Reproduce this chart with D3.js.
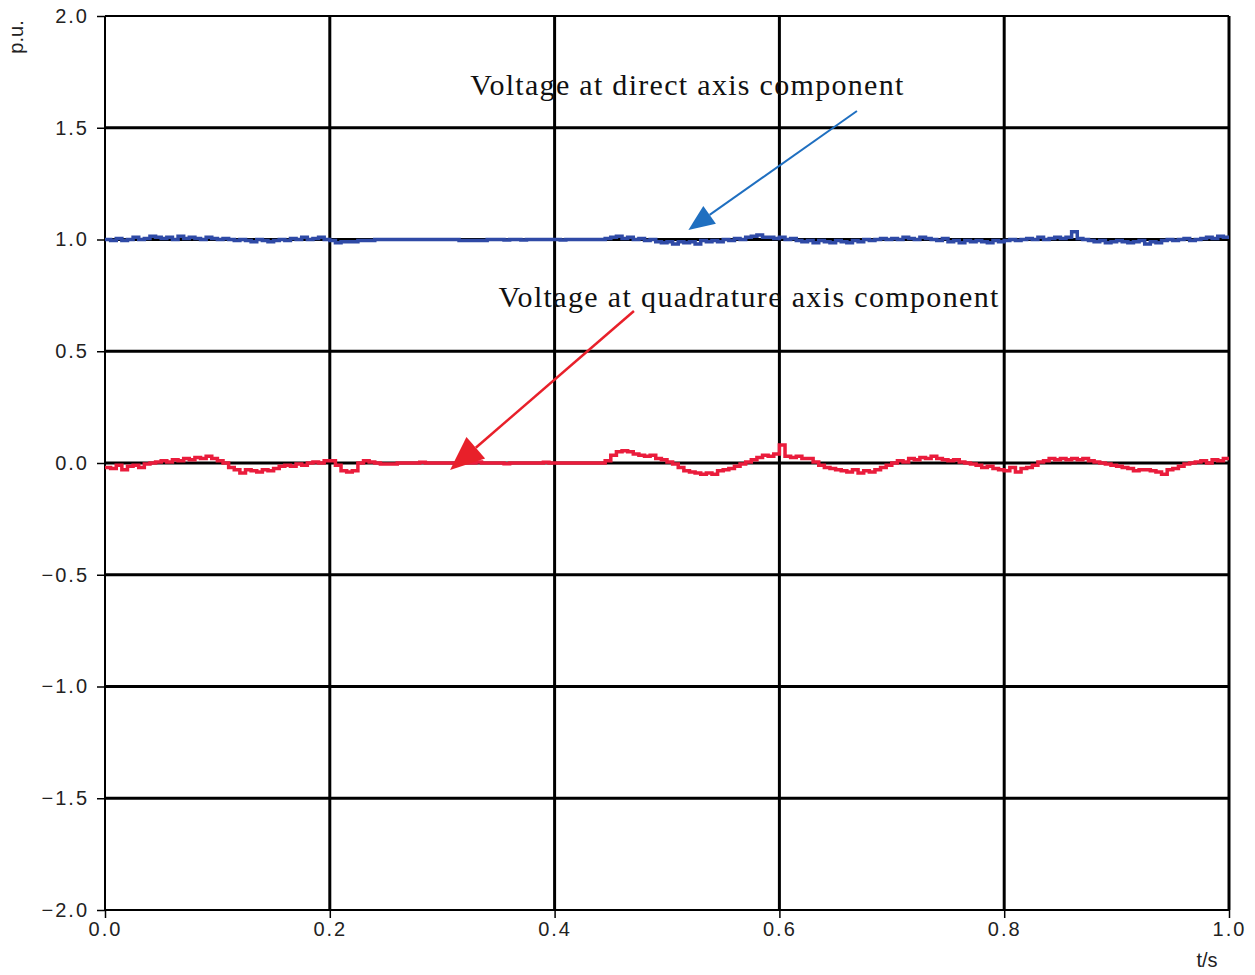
<!DOCTYPE html>
<html>
<head>
<meta charset="utf-8">
<script src="https://cdn.jsdelivr.net/npm/d3@7"></script>
<style>
  body { margin: 0; background: #fff; }
  .tick text { font-family: "Liberation Sans", Arial, sans-serif; font-size: 20px; fill: #222; letter-spacing: 2px; }
  .note { font-family: "Liberation Serif", "Times New Roman", serif; font-size: 30px; fill: #111; }
</style>
</head>
<body>
<div id="chart"></div>
<script>
// sampling step of the recorded signals (s)
const tStep = 0.005;

// direct axis voltage, p.u.
const vd = [
  1.0, 0.995, 1.005, 0.995, 1.0, 1.01, 1.0, 1.005, 1.015, 1.01,
  1.005, 1.01, 1.0, 1.015, 1.005, 1.01, 1.005, 1.0, 1.01, 1.005,
  1.0, 1.005, 1.0, 0.995, 1.0, 0.995, 0.99, 1.0, 0.995, 0.99,
  0.995, 1.0, 0.995, 1.005, 1.0, 1.01, 1.0, 1.005, 1.01, 1.0,
  0.995, 0.985, 0.99, 0.99, 0.99, 0.995, 0.995, 0.995, 1.0, 1.0,
  1.0, 1.0, 1.0, 1.0, 1.0, 1.0, 1.0, 1.0, 1.0, 1.0,
  1.0, 1.0, 1.0, 0.995, 0.995, 0.995, 0.995, 0.995, 1.0, 1.0,
  1.0, 0.998, 1.0, 1.0, 0.998, 1.0, 1.0, 1.0, 1.0, 1.0,
  1.0, 0.998, 1.0, 1.0, 1.0, 1.0, 1.0, 1.0, 1.0, 1.005,
  1.01, 1.015, 1.005, 1.01, 1.0, 1.005, 0.995, 1.0, 0.99, 0.985,
  0.99, 0.98, 0.99, 0.985, 0.99, 0.98, 0.995, 0.99, 0.995, 0.99,
  1.0, 0.995, 1.005, 1.0, 1.01, 1.015, 1.02, 1.01, 1.01, 1.005,
  1.01, 1.0, 1.005, 0.995, 0.99, 0.995, 0.985, 0.995, 0.99, 0.985,
  0.995, 0.99, 0.985, 0.995, 0.99, 1.0, 0.995, 1.0, 1.005, 1.0,
  1.005, 1.0, 1.01, 1.005, 1.0, 1.01, 1.005, 1.0, 0.995, 1.005,
  0.99, 0.995, 0.985, 0.995, 0.99, 0.995, 0.99, 0.985, 0.995, 0.99,
  0.995, 1.0, 0.995, 1.0, 1.005, 1.0, 1.01, 1.0, 1.005, 1.01,
  1.005, 1.01, 1.035, 1.005, 1.0, 0.995, 0.99, 0.995, 0.985, 0.99,
  0.995, 0.99, 0.985, 0.99, 0.995, 0.98, 0.99, 0.985, 0.995, 1.0,
  0.995, 1.0, 1.005, 0.995, 1.0, 1.005, 1.01, 1.005, 1.015, 1.01,
  1.01
];

// quadrature axis voltage, p.u.
const vq = [
  -0.02, -0.025, -0.01, -0.03, -0.015, -0.01, -0.02, -0.005, 0.0, 0.005,
  0.01, 0.005, 0.015, 0.01, 0.02, 0.015, 0.025, 0.02, 0.03, 0.02,
  0.01, 0.0, -0.02, -0.03, -0.045, -0.03, -0.035, -0.04, -0.03, -0.035,
  -0.025, -0.015, -0.01, -0.015, -0.005, -0.01, 0.0, 0.005, 0.0, 0.01,
  0.01, -0.01, -0.035, -0.04, -0.035, 0.0, 0.01, 0.005, 0.0, -0.005,
  -0.005, -0.005, 0.0, 0.0, 0.0, 0.0, 0.003, 0.0, 0.0, 0.0,
  0.0, 0.0, 0.0, 0.0, 0.0, 0.0, 0.005, 0.0, 0.0, 0.0,
  0.0, -0.003, 0.0, 0.0, 0.0, 0.0, 0.0, 0.0, 0.003, 0.0,
  0.0, 0.0, 0.0, 0.0, 0.0, 0.0, 0.0, 0.0, 0.0, 0.01,
  0.035, 0.05, 0.055, 0.05, 0.04, 0.035, 0.03, 0.035, 0.02, 0.015,
  0.005, -0.005, -0.02, -0.035, -0.04, -0.045, -0.05, -0.045, -0.05, -0.035,
  -0.03, -0.025, -0.015, -0.005, 0.005, 0.015, 0.025, 0.035, 0.03, 0.04,
  0.08, 0.03, 0.025, 0.03, 0.02, 0.02, 0.005, -0.01, -0.02, -0.025,
  -0.03, -0.035, -0.04, -0.03, -0.045, -0.035, -0.04, -0.03, -0.02, -0.01,
  0.0, 0.01, 0.005, 0.02, 0.015, 0.025, 0.02, 0.03, 0.02, 0.015,
  0.01, 0.015, 0.005, 0.0, -0.005, -0.01, -0.02, -0.015, -0.025, -0.03,
  -0.035, -0.02, -0.04, -0.025, -0.02, -0.01, 0.005, 0.01, 0.02, 0.015,
  0.02, 0.015, 0.02, 0.015, 0.02, 0.01, 0.005, 0.0, -0.005, -0.01,
  -0.015, -0.02, -0.025, -0.035, -0.03, -0.03, -0.035, -0.04, -0.05, -0.03,
  -0.025, -0.015, -0.005, 0.0, 0.005, 0.01, 0.0, 0.015, 0.01, 0.02,
  0.02
];

const xTicks = [0, 0.2, 0.4, 0.6, 0.8, 1.0];
const yTicks = [-2, -1.5, -1, -0.5, 0, 0.5, 1, 1.5, 2];

// annotations: text anchor and arrow (from -> to) in data units
const notes = [
  {text: "Voltage at direct axis component", t: 0.325, v: 1.646, len: 433,
   from: [0.669, 1.575], to: [0.519, 1.043], color: "#1f6fc0", w: 2, head: 26},
  {text: "Voltage at quadrature axis component", t: 0.350, v: 0.700, len: 500,
   from: [0.4706, 0.68], to: [0.307, -0.031], color: "#e8202a", w: 2.5, head: 34}
];

const margin = {top: 16, right: 26, bottom: 65, left: 105},
    width = 1255 - margin.left - margin.right,
    height = 975 - margin.top - margin.bottom;

const svg = d3.select("#chart")
  .append("svg")
    .attr("width", 1255)
    .attr("height", 975)
  .append("g")
    .attr("transform", `translate(${margin.left},${margin.top})`);

const x = d3.scaleLinear().domain([0, 1]).range([0, width]);
const y = d3.scaleLinear().domain([-2, 2]).range([height, 0]);

// grid
svg.append("g")
  .selectAll("line")
  .data(yTicks)
  .join("line")
    .attr("x1", 0).attr("x2", width)
    .attr("y1", d => y(d)).attr("y2", d => y(d))
    .attr("stroke", "#000")
    .attr("stroke-width", d => Math.abs(d) === 2 ? 2 : 3);

svg.append("g")
  .selectAll("line")
  .data(xTicks)
  .join("line")
    .attr("x1", d => x(d)).attr("x2", d => x(d))
    .attr("y1", 0).attr("y2", height)
    .attr("stroke", "#000")
    .attr("stroke-width", d => d === 0 ? 2 : 3);

// axes (ticks + labels)
const yAxis = svg.append("g")
  .call(d3.axisLeft(y).tickValues(yTicks).tickFormat(d3.format(".1f")).tickSize(8).tickPadding(8));
yAxis.select(".domain").remove();
yAxis.selectAll(".tick line").attr("stroke-width", 1.5);
yAxis.selectAll(".tick text").text(d => d3.format(".1f")(d).replace("-", "\u2212"));

const xAxis = svg.append("g")
  .attr("transform", `translate(0,${height})`)
  .call(d3.axisBottom(x).tickValues(xTicks).tickFormat(d3.format(".1f")).tickSize(8).tickPadding(4));
xAxis.select(".domain").remove();
xAxis.selectAll(".tick line").attr("stroke-width", 1.5);

svg.append("text")
  .attr("x", x(1) - 22).attr("y", height + 57)
  .attr("text-anchor", "middle")
  .style("font-family", "Liberation Sans, Arial, sans-serif")
  .style("font-size", "20px").style("fill", "#222")
  .text("t/s");

svg.append("text")
  .attr("transform", `translate(${-82},${21}) rotate(-90)`)
  .attr("text-anchor", "middle")
  .style("font-family", "Liberation Sans, Arial, sans-serif")
  .style("font-size", "20px").style("fill", "#222")
  .text("p.u.");

// curves
const line = d3.line()
  .x((d, i) => x(i * tStep))
  .y(d => y(d))
  .curve(d3.curveStepAfter);

svg.append("path")
  .datum(vd)
  .attr("fill", "none")
  .attr("stroke", "#2f4aa6")
  .attr("stroke-width", 3.5)
  .attr("d", line);

svg.append("path")
  .datum(vq)
  .attr("fill", "none")
  .attr("stroke", "#ea1c3c")
  .attr("stroke-width", 3.5)
  .attr("d", line);

// annotations with arrows
notes.forEach(n => {
  svg.append("text")
    .attr("class", "note")
    .attr("x", x(n.t)).attr("y", y(n.v))
    .attr("textLength", n.len)
    .attr("lengthAdjust", "spacing")
    .text(n.text);

  const x1 = x(n.from[0]), y1 = y(n.from[1]),
        x2 = x(n.to[0]), y2 = y(n.to[1]);
  const a = Math.atan2(y2 - y1, x2 - x1);
  const bx = x2 - n.head * Math.cos(a), by = y2 - n.head * Math.sin(a);
  const hw = n.head * 0.42;

  svg.append("line")
    .attr("x1", x1).attr("y1", y1)
    .attr("x2", bx).attr("y2", by)
    .attr("stroke", n.color)
    .attr("stroke-width", n.w);

  svg.append("path")
    .attr("d", d3.line()([
      [x2, y2],
      [bx + hw * Math.sin(a), by - hw * Math.cos(a)],
      [bx - hw * Math.sin(a), by + hw * Math.cos(a)]
    ]) + "Z")
    .attr("fill", n.color);
});
</script>
</body>
</html>
